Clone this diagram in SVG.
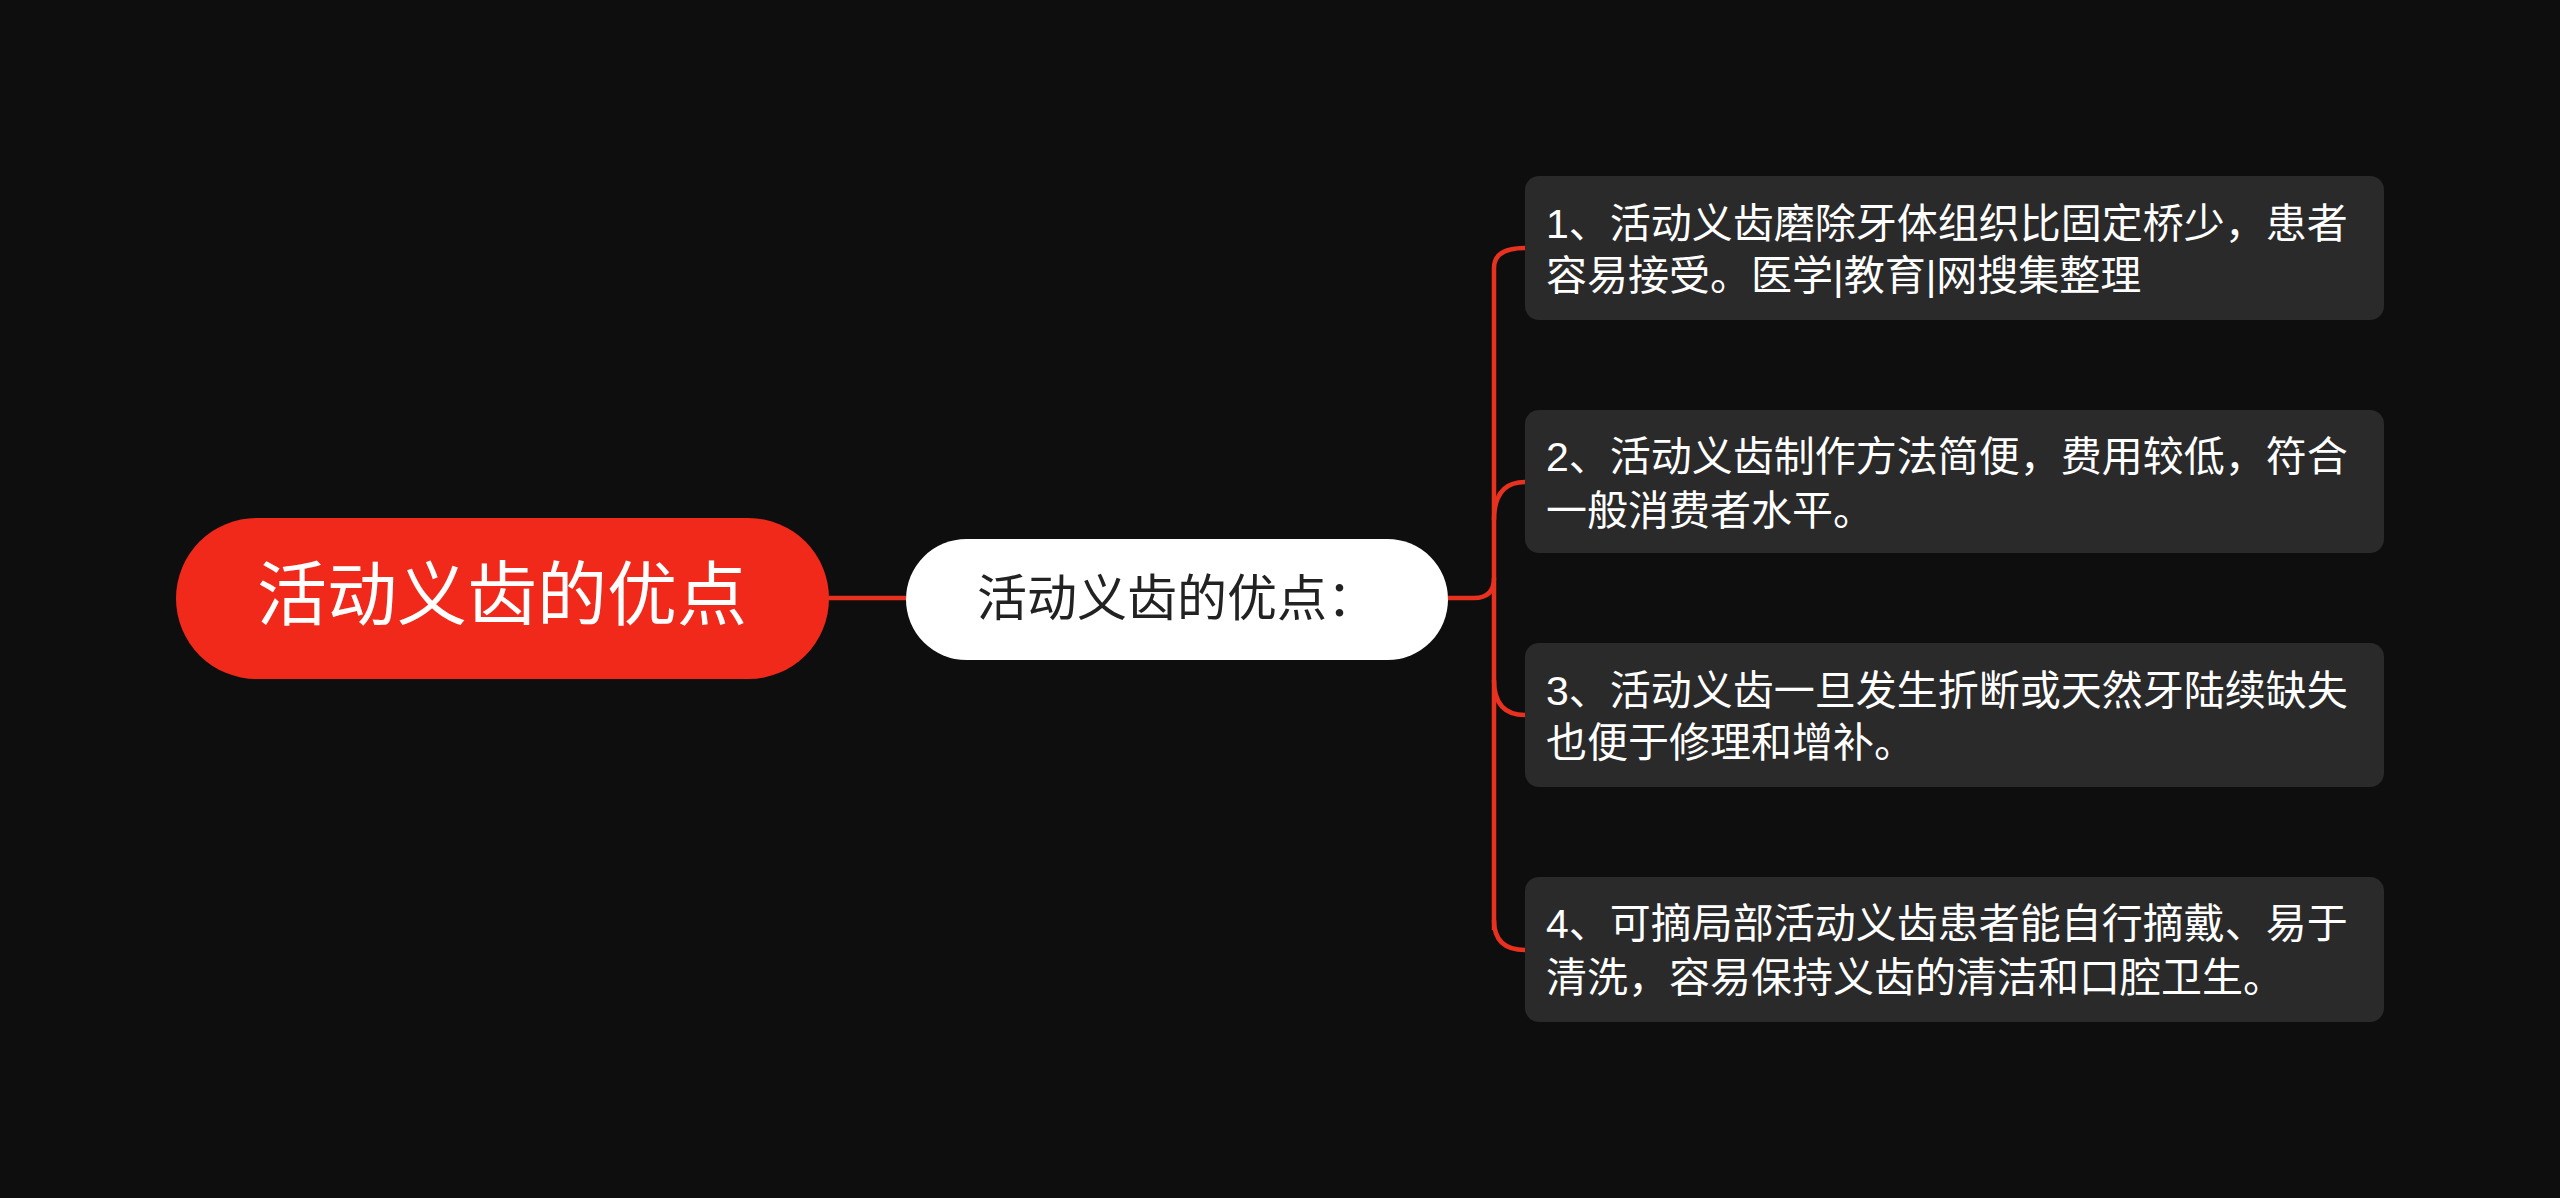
<svg xmlns="http://www.w3.org/2000/svg" width="2560" height="1198" viewBox="0 0 2560 1198">
<style>
.leaf rect{fill:#2a2a2a}
.leaf text{fill:#ffffff;font-family:"Liberation Sans","Noto Sans CJK SC",sans-serif;font-size:41px}
.conn path{fill:none;stroke:#e8311f;stroke-width:4.5}
</style>
<rect width="2560" height="1198" fill="#0e0e0e"/>
<g class="conn">
<path d="M829 598 H906"/>
<path d="M1448 598 H1474 Q1494 598 1494 578"/>
<path d="M1494 930 V268 Q1494 248 1525 248"/>
<path d="M1494 520 Q1494 482 1525 482"/>
<path d="M1494 680 Q1494 715 1525 715"/>
<path d="M1494 920 Q1494 950 1525 950"/>
</g>
<g id="root">
<rect x="176" y="518" width="653" height="161" rx="80.5" fill="#f0291b"/>
<text x="502" y="620" text-anchor="middle" fill="#fff" font-family="Liberation Sans,Noto Sans CJK SC,sans-serif" font-size="70">活动义齿的优点</text>
</g>
<g id="mid">
<rect x="906" y="539" width="542" height="121" rx="60.5" fill="#ffffff"/>
<text x="1177" y="616" text-anchor="middle" fill="#222" font-family="Liberation Sans,Noto Sans CJK SC,sans-serif" font-size="50">活动义齿的优点：</text>
</g>
<g id="leaf1" class="leaf"><rect x="1525" y="176" width="859" height="144" rx="14"/>
<text x="1546" y="238">1、活动义齿磨除牙体组织比固定桥少，患者</text><text x="1546" y="290">容易接受。医学|教育|网搜集整理</text></g>
<g id="leaf2" class="leaf"><rect x="1525" y="410" width="859" height="143" rx="14"/>
<text x="1546" y="471">2、活动义齿制作方法简便，费用较低，符合</text><text x="1546" y="525">一般消费者水平。</text></g>
<g id="leaf3" class="leaf"><rect x="1525" y="643" width="859" height="144" rx="14"/>
<text x="1546" y="705">3、活动义齿一旦发生折断或天然牙陆续缺失</text><text x="1546" y="757">也便于修理和增补。</text></g>
<g id="leaf4" class="leaf"><rect x="1525" y="877" width="859" height="145" rx="14"/>
<text x="1546" y="938">4、可摘局部活动义齿患者能自行摘戴、易于</text><text x="1546" y="992">清洗，容易保持义齿的清洁和口腔卫生。</text></g>
</svg>
